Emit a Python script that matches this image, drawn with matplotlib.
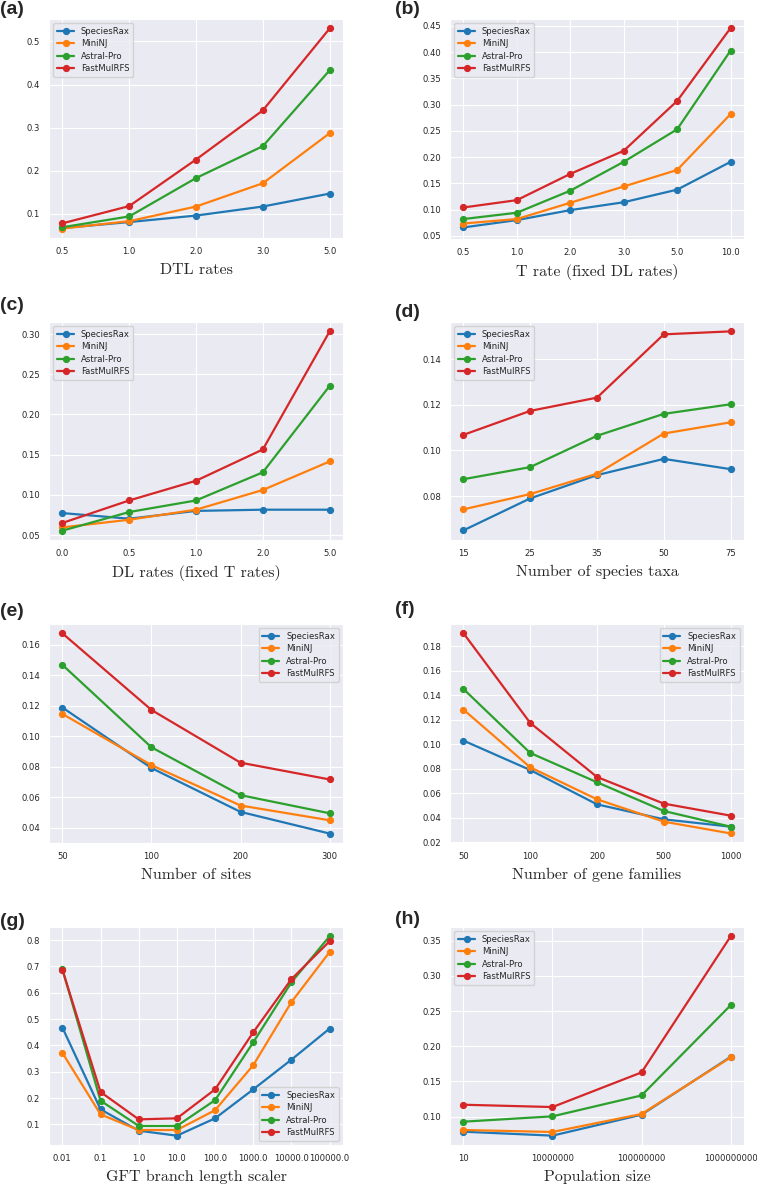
import matplotlib
matplotlib.use("Agg")
import matplotlib.pyplot as plt
import seaborn as sns

sns.set_style("darkgrid")
plt.rcParams['font.family'] = ['DejaVu Sans']

methods = ["SpeciesRax", "MiniNJ", "Astral-Pro", "FastMulRFS"]
colors = ["#1f77b4", "#ff7f0e", "#2ca02c", "#d62728"]

# (a) DTL rates
a_x = ["0.5", "1.0", "2.0", "3.0", "5.0"]
a_speciesrax = [0.067, 0.081, 0.096, 0.117, 0.147]
a_mininj = [0.066, 0.083, 0.117, 0.171, 0.287]
a_astral = [0.069, 0.094, 0.183, 0.257, 0.433]
a_fastmulrfs = [0.078, 0.118, 0.226, 0.340, 0.530]

# (b) T rate
b_x = ["0.5", "1.0", "2.0", "3.0", "5.0", "10.0"]
b_speciesrax = [0.066, 0.080, 0.099, 0.114, 0.138, 0.191]
b_mininj = [0.0735, 0.082, 0.113, 0.144, 0.1755, 0.282]
b_astral = [0.082, 0.094, 0.136, 0.191, 0.253, 0.403]
b_fastmulrfs = [0.104, 0.118, 0.168, 0.212, 0.307, 0.446]

# (c) DL rates
c_x = ["0.0", "0.5", "1.0", "2.0", "5.0"]
c_speciesrax = [0.0773, 0.0703, 0.0800, 0.0815, 0.0815]
c_mininj = [0.0595, 0.0690, 0.0815, 0.1060, 0.1415]
c_astral = [0.0554, 0.0786, 0.0930, 0.1280, 0.2355]
c_fastmulrfs = [0.0650, 0.0930, 0.1175, 0.1564, 0.3033]

# (d) species taxa
d_x = ["15", "25", "35", "50", "75"]
d_speciesrax = [0.0650, 0.0790, 0.0892, 0.0963, 0.0918]
d_mininj = [0.0742, 0.0809, 0.0898, 0.1074, 0.1123]
d_astral = [0.0874, 0.0927, 0.1064, 0.1160, 0.1202]
d_fastmulrfs = [0.1068, 0.1173, 0.1231, 0.1508, 0.1521]

# (e) sites
e_x = ["50", "100", "200", "300"]
e_speciesrax = [0.1188, 0.0791, 0.0503, 0.0361]
e_mininj = [0.1146, 0.0810, 0.0545, 0.0448]
e_astral = [0.1468, 0.0927, 0.0613, 0.0494]
e_fastmulrfs = [0.1675, 0.1172, 0.0826, 0.0716]

# (f) gene families
f_x = ["50", "100", "200", "500", "1000"]
f_speciesrax = [0.1030, 0.0790, 0.0510, 0.0388, 0.0328]
f_mininj = [0.1283, 0.0812, 0.0551, 0.0369, 0.0273]
f_astral = [0.1451, 0.0929, 0.0690, 0.0456, 0.0328]
f_fastmulrfs = [0.1906, 0.1174, 0.0733, 0.0516, 0.0418]

# (g) GFT branch length scaler
g_x = ["0.01", "0.1", "1.0", "10.0", "100.0", "1000.0", "10000.0", "100000.0"]
g_speciesrax = [0.468, 0.157, 0.076, 0.057, 0.123, 0.233, 0.346, 0.464]
g_mininj = [0.372, 0.138, 0.0785, 0.0785, 0.154, 0.325, 0.565, 0.755]
g_astral = [0.690, 0.190, 0.094, 0.094, 0.192, 0.412, 0.640, 0.815]
g_fastmulrfs = [0.688, 0.223, 0.119, 0.123, 0.233, 0.450, 0.652, 0.796]

# (h) population size
h_x = ["10", "10000000", "100000000", "1000000000"]
h_speciesrax = [0.0787, 0.0731, 0.1028, 0.1850]
h_mininj = [0.0811, 0.0783, 0.1038, 0.1841]
h_astral = [0.0929, 0.1005, 0.1302, 0.2583]
h_fastmulrfs = [0.1170, 0.1137, 0.1629, 0.3561]

W, H = 757, 1185
fig = plt.figure(figsize=(W / 100, H / 100), dpi=100)

def px_axes(left, top, right, bottom):
    return fig.add_axes([left / W, 1 - bottom / H, (right - left) / W, (bottom - top) / H])

panels = [
    ("(a)", a_x, [a_speciesrax, a_mininj, a_astral, a_fastmulrfs], "DTL rates",
     (49, 19, 343, 238), (0.044, 0.552), [0.1, 0.2, 0.3, 0.4, 0.5], "{:.1f}", "upper left", (0, 10)),
    ("(b)", b_x, [b_speciesrax, b_mininj, b_astral, b_fastmulrfs], "T rate (fixed DL rates)",
     (450, 19, 744, 239), (0.044, 0.463), [0.05, 0.10, 0.15, 0.20, 0.25, 0.30, 0.35, 0.40, 0.45], "{:.2f}", "upper left", (395, 10)),
    ("(c)", c_x, [c_speciesrax, c_mininj, c_astral, c_fastmulrfs], "DL rates (fixed T rates)",
     (49, 322, 343, 540), (0.0438, 0.315), [0.05, 0.10, 0.15, 0.20, 0.25, 0.30], "{:.2f}", "upper left", (0, 305)),
    ("(d)", d_x, [d_speciesrax, d_mininj, d_astral, d_fastmulrfs], "Number of species taxa",
     (450, 322, 744, 540), (0.0608, 0.1562), [0.08, 0.10, 0.12, 0.14], "{:.2f}", "upper left", (395, 312)),
    ("(e)", e_x, [e_speciesrax, e_mininj, e_astral, e_fastmulrfs], "Number of sites",
     (49, 624, 343, 843), (0.0299, 0.1736), [0.04, 0.06, 0.08, 0.10, 0.12, 0.14, 0.16], "{:.2f}", "upper right", (0, 612)),
    ("(f)", f_x, [f_speciesrax, f_mininj, f_astral, f_fastmulrfs], "Number of gene families",
     (450, 624, 744, 843), (0.0195, 0.198), [0.02, 0.04, 0.06, 0.08, 0.10, 0.12, 0.14, 0.16, 0.18], "{:.2f}", "upper right", (395, 610)),
    ("(g)", g_x, [g_speciesrax, g_mininj, g_astral, g_fastmulrfs], "GFT branch length scaler",
     (49, 927, 343, 1145), (0.0216, 0.850), [0.1, 0.2, 0.3, 0.4, 0.5, 0.6, 0.7, 0.8], "{:.1f}", "lower right", (0, 922)),
    ("(h)", h_x, [h_speciesrax, h_mininj, h_astral, h_fastmulrfs], "Population size",
     (450, 927, 744, 1145), (0.0598, 0.3694), [0.10, 0.15, 0.20, 0.25, 0.30, 0.35], "{:.2f}", "upper left", (395, 920)),
]

for letter, xs, series, xlabel, rect, ylim, yticks, fmt, legloc, lpos in panels:
    ax = px_axes(*rect)
    pos = list(range(len(xs)))
    for name, vals, col in zip(methods, series, colors):
        ax.plot(pos, vals, marker="o", color=col, lw=1.6, ms=4.2, label=name)
    ax.set_xticks(pos)
    ax.set_xticklabels(xs, fontsize=6.1)
    ax.set_ylim(*ylim)
    ax.set_yticks(yticks)
    ax.set_yticklabels([fmt.format(t) for t in yticks], fontsize=6.1)
    ax.tick_params(axis="x", pad=3)
    ax.tick_params(axis="y", pad=3)
    ax.set_xlabel(xlabel, fontsize=11.5, family="cmr10", labelpad=5)
    ax.legend(loc=legloc, fontsize=6.1, handlelength=2.0, borderpad=0.45,
              labelspacing=0.4, frameon=True)
    fig.text(lpos[0] / W, 1 - lpos[1] / H, letter, fontsize=14, fontweight="bold",
             family="Liberation Sans", va="center", ha="left")

fig.savefig("out.png", dpi=100)
